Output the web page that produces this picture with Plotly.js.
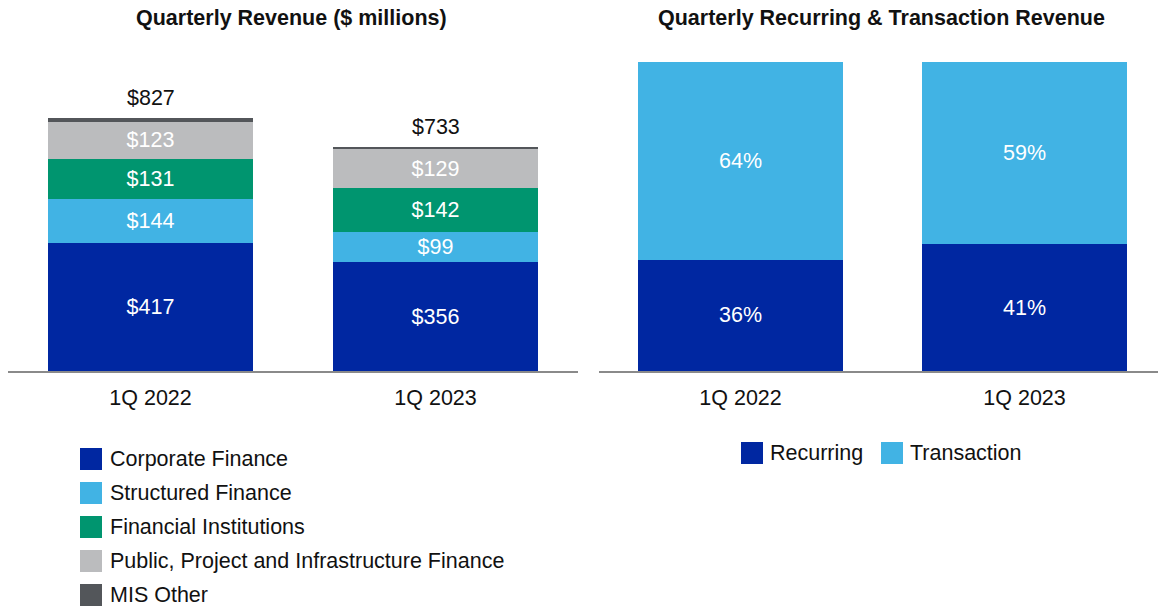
<!DOCTYPE html>
<html>
<head>
<meta charset="utf-8">
<script src="https://cdn.plot.ly/plotly-3.0.1.min.js"></script>
<style>html,body{margin:0;padding:0;background:#fff;}#chart{width:1158px;height:608px;}</style>
</head>
<body>
<div id="chart"></div>
<script>
// ---- Data ----
const categories = ['1Q 2022', '1Q 2023'];
const corporateFinance = [417, 356];
const structuredFinance = [144, 99];
const financialInstitutions = [131, 142];
const publicProjectInfra = [123, 129];
const misOther = [12, 7];
const totals = [827, 733];
const recurringPct = [36, 41];
const transactionPct = [64, 59];

const leftSeriesNames = ['Corporate Finance', 'Structured Finance', 'Financial Institutions',
  'Public, Project and Infrastructure Finance', 'MIS Other'];
const rightSeriesNames = ['Recurring', 'Transaction'];

// ---- Styles ----
const W = 1158, H = 608;
const FONT = 'Liberation Sans, Arial, Helvetica, sans-serif';
const FS = 21.5;
const colors = {
  corp: '#0027a1', struct: '#41b3e4', fin: '#00956f', ppif: '#bbbcbe', other: '#53565a'
};
const leftColors = [colors.corp, colors.struct, colors.fin, colors.ppif, colors.other];
const rightColors = [colors.corp, colors.struct];
const px = v => v / W;
const py = v => 1 - v / H;

const leftValues = [corporateFinance, structuredFinance, financialInstitutions, publicProjectInfra, misOther];
const traces = [];
leftValues.forEach((vals, i) => {
  traces.push({
    type: 'bar', x: categories, y: vals, name: leftSeriesNames[i],
    xaxis: 'x', yaxis: 'y',
    marker: {color: leftColors[i], line: {width: 0}},
    text: i < 4 ? vals.map(v => '$' + v) : vals.map(() => ''),
    textposition: i < 4 ? 'inside' : 'none',
    insidetextanchor: 'middle',
    constraintext: 'none',
    textfont: {color: '#ffffff', size: FS, family: FONT},
    showlegend: false, hoverinfo: 'skip'
  });
});
[recurringPct, transactionPct].forEach((vals, i) => {
  traces.push({
    type: 'bar', x: categories, y: vals, name: rightSeriesNames[i],
    xaxis: 'x2', yaxis: 'y2',
    marker: {color: rightColors[i], line: {width: 0}},
    text: vals.map(v => v + '%'),
    textposition: 'inside', insidetextanchor: 'middle', constraintext: 'none',
    textfont: {color: '#ffffff', size: FS, family: FONT},
    showlegend: false, hoverinfo: 'skip'
  });
});

const annotations = [];
const shapes = [];
// Titles
annotations.push({xref: 'paper', yref: 'paper', x: px(291), y: py(18), text: '<b>Quarterly Revenue ($ millions)</b>',
  showarrow: false, xanchor: 'center', yanchor: 'middle', font: {size: FS, color: '#111', family: FONT}});
annotations.push({xref: 'paper', yref: 'paper', x: px(881), y: py(18), text: '<b>Quarterly Recurring &amp; Transaction Revenue</b>',
  showarrow: false, xanchor: 'center', yanchor: 'middle', font: {size: FS, color: '#111', family: FONT}});
// Totals
categories.forEach((c, i) => {
  annotations.push({xref: 'x', yref: 'y', x: c, y: totals[i], text: '$' + totals[i], showarrow: false,
    xanchor: 'center', yanchor: 'bottom', yshift: 6, font: {size: FS, color: '#111', family: FONT}});
});
// Left legend (vertical)
leftSeriesNames.forEach((n, i) => {
  const cy = 459 + i * 34;
  shapes.push({type: 'rect', xref: 'paper', yref: 'paper', x0: px(80), x1: px(102), y0: py(cy - 11), y1: py(cy + 11),
    fillcolor: leftColors[i], line: {width: 0}});
  annotations.push({xref: 'paper', yref: 'paper', x: px(108), y: py(cy), text: n, showarrow: false,
    xanchor: 'left', yanchor: 'middle', font: {size: FS, color: '#111', family: FONT}});
});
// Right legend (horizontal)
const rightLegendX = [741, 881];
rightSeriesNames.forEach((n, i) => {
  const cy = 453;
  const x0 = rightLegendX[i];
  shapes.push({type: 'rect', xref: 'paper', yref: 'paper', x0: px(x0), x1: px(x0 + 22), y0: py(cy - 11), y1: py(cy + 11),
    fillcolor: rightColors[i], line: {width: 0}});
  annotations.push({xref: 'paper', yref: 'paper', x: px(x0 + 27), y: py(cy), text: n, showarrow: false,
    xanchor: 'left', yanchor: 'middle', font: {size: FS, color: '#111', family: FONT}});
});

const yDomain = [py(371), py(62)];
const layout = {
  width: W, height: H,
  margin: {l: 0, r: 0, t: 0, b: 0},
  paper_bgcolor: '#ffffff', plot_bgcolor: '#ffffff',
  font: {family: FONT, color: '#111'},
  barmode: 'stack', bargap: 0.28,
  showlegend: false,
  xaxis: {domain: [px(8), px(578)], range: [-0.5, 1.5], type: 'category', anchor: 'y',
    showline: true, linecolor: '#8a8a8a', linewidth: 2, ticks: '', showgrid: false, zeroline: false,
    tickfont: {size: FS, color: '#111', family: FONT}, ticklabelstandoff: 6, fixedrange: true},
  yaxis: {domain: yDomain, range: [0, 1010], visible: false, showgrid: false, zeroline: false, anchor: 'x'},
  xaxis2: {domain: [px(598.5), 1], range: [-0.5, 1.47], type: 'category', anchor: 'y2',
    showline: true, linecolor: '#8a8a8a', linewidth: 2, ticks: '', showgrid: false, zeroline: false,
    tickfont: {size: FS, color: '#111', family: FONT}, ticklabelstandoff: 6, fixedrange: true},
  yaxis2: {domain: yDomain, range: [0, 100], visible: false, showgrid: false, zeroline: false, anchor: 'x2'},
  annotations: annotations,
  shapes: shapes
};

Plotly.newPlot('chart', traces, layout, {displayModeBar: false, staticPlot: true});
</script>
</body>
</html>
